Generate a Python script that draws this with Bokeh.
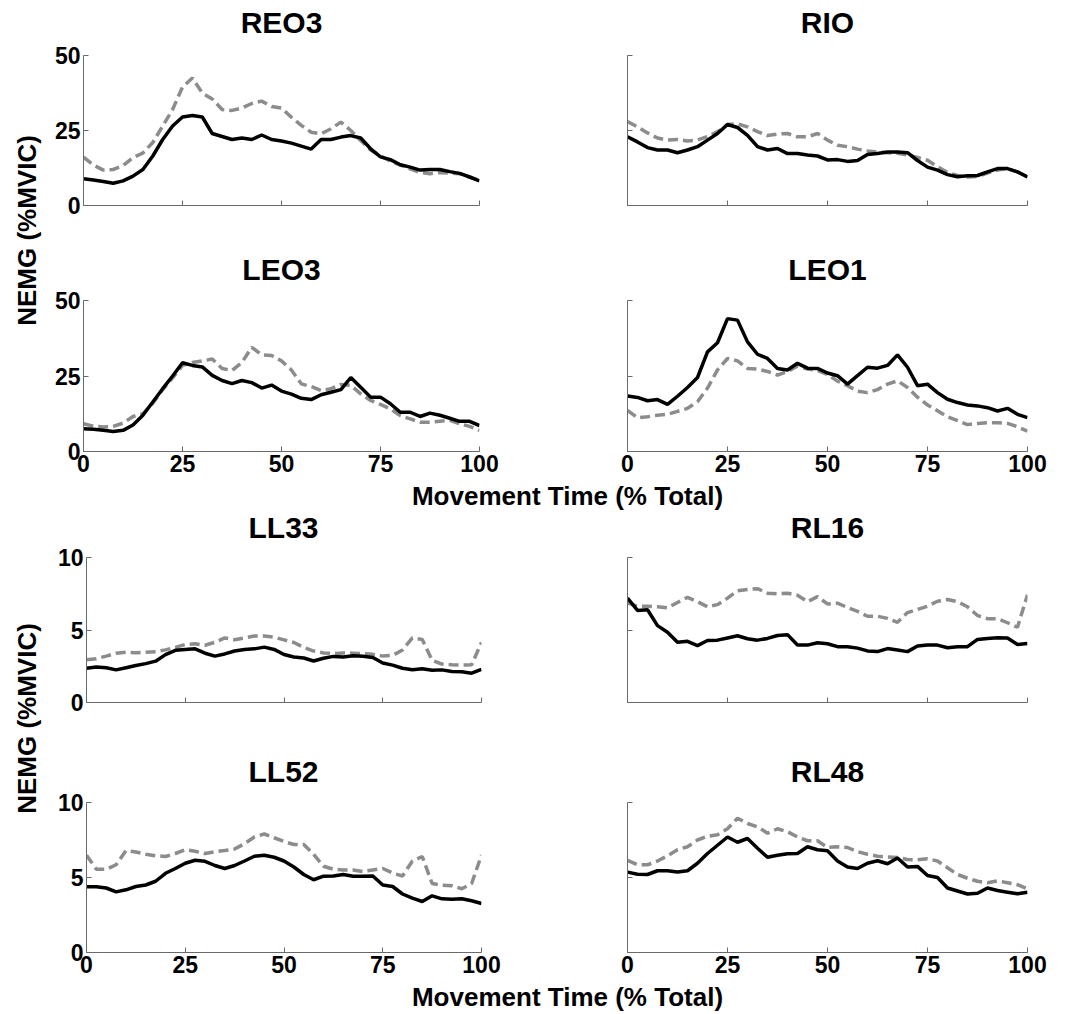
from math import pi
from bokeh.plotting import figure
from bokeh.models import Range1d, FixedTicker, Label
from bokeh.layouts import column, row
from bokeh.embed import file_html
from bokeh.resources import INLINE

# ---------------- data ----------------
x_pct = [0, 2.5, 5, 7.5, 10, 12.5, 15, 17.5, 20, 22.5, 25, 27.5, 30, 32.5, 35, 37.5, 40,
         42.5, 45, 47.5, 50, 52.5, 55, 57.5, 60, 62.5, 65, 67.5, 70, 72.5, 75, 77.5, 80,
         82.5, 85, 87.5, 90, 92.5, 95, 97.5, 100]

x_ticks = [0, 25, 50, 75, 100]
y_ticks_trunk = [0, 25, 50]
y_ticks_limb = [0, 5, 10]

muscles = ["REO3", "RIO", "LEO3", "LEO1", "LL33", "RL16", "LL52", "RL48"]

reo3_solid = [8.9, 8.5, 8.0, 7.4, 8.2, 9.8, 12.0, 16.5, 22.0, 26.5, 29.5, 30.0, 29.5, 24.0, 23.0,
              22.0, 22.5, 22.0, 23.5, 22.0, 21.5, 20.8, 19.8, 18.8, 22.0, 22.0, 22.8, 23.3, 22.5,
              18.9, 16.2, 15.3, 13.6, 12.8, 11.8, 12.0, 12.0, 11.3, 10.7, 9.5, 8.2]
reo3_dash = [16.1, 13.5, 11.8, 12.0, 13.3, 16.0, 17.5, 21.0, 26.5, 32.0, 39.5, 42.5, 37.5, 35.5,
             32.0, 31.7, 32.5, 34.0, 34.8, 33.0, 32.5, 29.4, 26.7, 24.4, 23.9, 25.6, 27.8, 25.0,
             21.7, 18.5, 16.5, 14.8, 13.5, 12.2, 11.0, 10.6, 11.0, 10.8, 10.6, 9.5, 8.3]

rio_solid = [22.9, 21.2, 19.3, 18.5, 18.5, 17.6, 18.5, 19.6, 21.8, 24.0, 27.0, 26.0, 23.4, 19.6,
             18.5, 19.0, 17.3, 17.3, 16.8, 16.5, 15.2, 15.3, 14.7, 15.0, 17.0, 17.3, 17.8, 17.8,
             17.6, 15.0, 12.8, 11.8, 10.3, 9.6, 9.9, 10.0, 11.2, 12.3, 12.3, 11.2, 9.5]
rio_dash = [28.0, 26.2, 24.2, 22.5, 21.8, 22.0, 21.5, 21.8, 23.0, 24.6, 27.0, 27.2, 26.2, 24.6,
            23.3, 23.8, 24.0, 22.9, 22.9, 24.0, 21.8, 20.1, 19.6, 18.8, 18.2, 17.8, 17.6, 17.4,
            16.8, 16.0, 15.1, 12.9, 11.0, 10.0, 9.5, 9.7, 10.8, 11.8, 12.3, 11.2, 9.5]

leo3_solid = [7.5, 7.4, 7.0, 6.6, 7.0, 8.8, 12.0, 16.4, 20.8, 25.0, 29.4, 28.5, 28.0, 25.2, 23.5,
              22.5, 23.5, 22.8, 21.0, 22.0, 20.0, 19.0, 17.6, 17.2, 18.8, 19.6, 20.5, 24.5, 21.3,
              18.0, 18.0, 15.8, 13.0, 13.0, 11.6, 12.7, 12.0, 11.0, 10.0, 10.0, 8.6]
leo3_dash = [9.2, 8.4, 8.1, 8.3, 9.4, 11.6, 12.5, 16.0, 20.5, 24.4, 28.5, 29.5, 30.0, 30.6, 27.5,
             26.8, 29.5, 34.5, 32.0, 31.8, 30.0, 27.0, 22.4, 21.5, 20.2, 20.8, 22.2, 21.9, 19.1,
             16.9, 15.6, 14.1, 11.9, 10.8, 9.7, 9.7, 10.0, 10.3, 9.2, 8.3, 7.0]

leo1_solid = [18.4, 17.9, 16.8, 17.2, 15.6, 18.3, 21.2, 24.5, 33.0, 36.0, 44.0, 43.5, 36.3, 32.2,
              30.8, 27.5, 27.0, 29.2, 27.6, 27.5, 26.0, 25.1, 22.3, 25.1, 27.9, 27.6, 28.5, 32.0,
              27.9, 21.8, 22.3, 19.5, 17.3, 16.2, 15.4, 15.1, 14.5, 13.4, 14.3, 12.3, 11.2]
leo1_dash = [13.6, 11.2, 11.5, 12.0, 12.3, 13.3, 14.3, 16.5, 21.0, 27.0, 30.8, 30.0, 27.5, 27.3,
             26.5, 25.3, 26.5, 28.3, 27.3, 26.8, 25.5, 23.3, 21.8, 20.0, 19.5, 20.5, 22.3, 23.4,
             21.2, 18.0, 15.4, 13.5, 11.5, 10.2, 8.9, 9.3, 9.5, 9.5, 9.3, 8.2, 6.7]

ll33_solid = [2.36, 2.45, 2.40, 2.25, 2.40, 2.55, 2.68, 2.85, 3.30, 3.60, 3.65, 3.70, 3.40, 3.20,
              3.35, 3.55, 3.65, 3.70, 3.82, 3.66, 3.31, 3.14, 3.07, 2.86, 3.05, 3.18, 3.14, 3.22,
              3.19, 3.10, 2.72, 2.58, 2.36, 2.26, 2.33, 2.22, 2.25, 2.14, 2.12, 2.02, 2.29]
ll33_dash = [2.95, 3.02, 3.20, 3.40, 3.47, 3.43, 3.46, 3.50, 3.63, 3.80, 4.00, 4.05, 3.95, 4.15,
             4.45, 4.33, 4.45, 4.58, 4.58, 4.50, 4.32, 4.14, 3.80, 3.55, 3.42, 3.38, 3.42, 3.40,
             3.37, 3.32, 3.20, 3.25, 3.62, 4.45, 4.35, 2.90, 2.65, 2.60, 2.58, 2.60, 4.14]

rl16_solid = [7.20, 6.35, 6.40, 5.30, 4.85, 4.15, 4.22, 3.92, 4.28, 4.30, 4.45, 4.60, 4.40, 4.30,
              4.42, 4.62, 4.68, 3.96, 3.96, 4.12, 4.05, 3.85, 3.85, 3.75, 3.56, 3.51, 3.72, 3.62,
              3.51, 3.90, 3.96, 3.96, 3.78, 3.85, 3.85, 4.35, 4.42, 4.46, 4.45, 4.00, 4.07]
rl16_dash = [6.87, 6.64, 6.64, 6.60, 6.53, 6.90, 7.25, 6.95, 6.60, 6.75, 7.20, 7.70, 7.80, 7.85,
             7.54, 7.50, 7.54, 7.40, 6.95, 7.30, 6.80, 6.85, 6.55, 6.28, 5.95, 5.95, 5.80, 5.53,
             6.20, 6.42, 6.64, 6.98, 7.10, 6.95, 6.60, 6.00, 5.78, 5.78, 5.50, 5.19, 7.43]

ll52_solid = [4.38, 4.38, 4.30, 4.04, 4.18, 4.40, 4.50, 4.75, 5.28, 5.60, 5.95, 6.15, 6.08, 5.80,
              5.60, 5.80, 6.10, 6.42, 6.48, 6.35, 6.10, 5.70, 5.20, 4.85, 5.09, 5.10, 5.20, 5.09,
              5.09, 5.10, 4.50, 4.40, 3.90, 3.62, 3.40, 3.78, 3.58, 3.55, 3.58, 3.45, 3.27]
ll52_dash = [6.49, 5.55, 5.55, 5.85, 6.80, 6.70, 6.55, 6.45, 6.40, 6.60, 6.85, 6.75, 6.60, 6.72,
             6.80, 6.90, 7.25, 7.70, 7.90, 7.65, 7.40, 7.20, 7.20, 6.55, 5.75, 5.55, 5.50, 5.50,
             5.40, 5.50, 5.60, 5.30, 5.10, 6.10, 6.40, 4.60, 4.48, 4.45, 4.25, 4.60, 6.49]

rl48_solid = [5.36, 5.22, 5.20, 5.45, 5.45, 5.36, 5.45, 5.95, 6.60, 7.15, 7.70, 7.35, 7.60, 6.95,
              6.35, 6.48, 6.58, 6.60, 7.05, 6.85, 6.78, 6.10, 5.70, 5.60, 5.95, 6.12, 5.92, 6.30,
              5.70, 5.74, 5.13, 5.00, 4.30, 4.10, 3.90, 3.95, 4.30, 4.13, 4.02, 3.91, 4.02]
rl48_dash = [6.14, 5.85, 5.85, 6.10, 6.45, 6.85, 7.05, 7.50, 7.75, 7.85, 8.25, 8.95, 8.60, 8.38,
             7.95, 8.25, 8.05, 7.70, 7.45, 7.45, 7.00, 7.05, 7.00, 6.72, 6.55, 6.42, 6.36, 6.33,
             6.20, 6.18, 6.25, 6.10, 5.65, 5.20, 4.95, 4.75, 4.65, 4.78, 4.65, 4.52, 4.24]

y_title = "NEMG (%MVIC)"
x_title = "Movement Time (% Total)"

# ---------------- style ----------------
FONT = "Liberation Sans"
AXIS_COLOR = "#6a6a6a"
DASH_COLOR = "#8c8c8c"


def panel(solid, dashed, ymax, yticks, y_labels, x_labels, w, h, bl, br, bt, bb):
    p = figure(width=w, height=h, x_range=Range1d(0, 100), y_range=Range1d(0, ymax),
               toolbar_location=None, output_backend="svg",
               min_border_left=bl, min_border_right=br,
               min_border_top=bt, min_border_bottom=bb)
    p.outline_line_color = None
    p.grid.visible = False
    p.background_fill_color = "white"
    p.border_fill_color = "white"
    for ax in (p.xaxis[0], p.yaxis[0]):
        ax.axis_line_color = AXIS_COLOR
        ax.axis_line_width = 1
        ax.major_tick_line_color = AXIS_COLOR
        ax.major_tick_in = 5
        ax.major_tick_out = 0
        ax.minor_tick_line_color = None
        ax.major_label_text_font = FONT
        ax.major_label_text_font_size = "23px"
        ax.major_label_text_font_style = "bold"
        ax.major_label_text_color = "black"
        ax.major_label_standoff = 3
    p.xaxis.ticker = FixedTicker(ticks=x_ticks)
    p.yaxis.ticker = FixedTicker(ticks=yticks)
    if not x_labels:
        p.xaxis.major_label_overrides = {t: "" for t in x_ticks}
    if not y_labels:
        p.yaxis.major_label_overrides = {t: "" for t in yticks}
    p.line(x_pct, dashed, line_color=DASH_COLOR, line_width=3.5, line_dash="10 5")
    p.line(x_pct, solid, line_color="black", line_width=3.5)
    return p


def text_strip(w, h, items, size, angle=0.0):
    """items: list of (text, x, y) in strip pixels (y measured from the bottom)."""
    s = figure(width=w, height=h, x_range=Range1d(0, w), y_range=Range1d(0, h),
               toolbar_location=None, output_backend="svg",
               x_axis_type=None, y_axis_type=None,
               min_border_left=0, min_border_right=0, min_border_top=0, min_border_bottom=0)
    s.outline_line_color = None
    s.grid.visible = False
    for text, x, y in items:
        s.add_layout(Label(x=x, y=y, text=text, angle=angle, text_align="center",
                           text_baseline="middle", text_font=FONT, text_font_size=size,
                           text_font_style="bold", text_color="black"))
    return s


LW, RW, SW = 488, 534, 45
TW = LW + RW

# group 1 (upper trunk muscles)
t1 = text_strip(TW, 41, [(muscles[0], 236, 19), (muscles[1], 782, 19)], "30px")
p1 = panel(reo3_solid, reo3_dash, 50, y_ticks_trunk, True, False, LW, 204, 38, 54, 14, 40)
p2 = panel(rio_solid, rio_dash, 50, y_ticks_trunk, False, False, RW, 204, 94, 40, 14, 40)
t2 = text_strip(TW, 41, [(muscles[2], 236, 17), (muscles[3], 782, 17)], "30px")
p3 = panel(leo3_solid, leo3_dash, 50, y_ticks_trunk, True, True, LW, 194, 38, 54, 14, 29)
p4 = panel(leo1_solid, leo1_dash, 50, y_ticks_trunk, False, True, RW, 194, 94, 40, 14, 29)

# group 2 (lower limb / back muscles)
t3 = text_strip(TW, 34, [(muscles[4], 238, 17), (muscles[5], 782, 17)], "30px")
p5 = panel(ll33_solid, ll33_dash, 10, y_ticks_limb, True, False, LW, 201, 41, 52, 13, 43)
p6 = panel(rl16_solid, rl16_dash, 10, y_ticks_limb, False, False, RW, 201, 94, 40, 13, 43)
t4 = text_strip(TW, 44, [(muscles[6], 238, 18), (muscles[7], 782, 18)], "30px")
p7 = panel(ll52_solid, ll52_dash, 10, y_ticks_limb, True, True, LW, 192, 41, 52, 13, 29)
p8 = panel(rl48_solid, rl48_dash, 10, y_ticks_limb, False, True, RW, 192, 94, 40, 13, 29)

ys1 = text_strip(SW, 480, [(y_title, 26, 250)], "26px", pi / 2)
ys2 = text_strip(SW, 471, [(y_title, 26, 263)], "26px", pi / 2)
xs1 = text_strip(1067, 30, [(x_title, 567, 15)], "26px")
xs2 = text_strip(1067, 33, [(x_title, 567, 18)], "26px")

layout = column(
    row(ys1, column(t1, row(p1, p2), t2, row(p3, p4))),
    xs1,
    row(ys2, column(t3, row(p5, p6), t4, row(p7, p8))),
    xs2,
)

open("out.html", "w").write(file_html(layout, INLINE))
